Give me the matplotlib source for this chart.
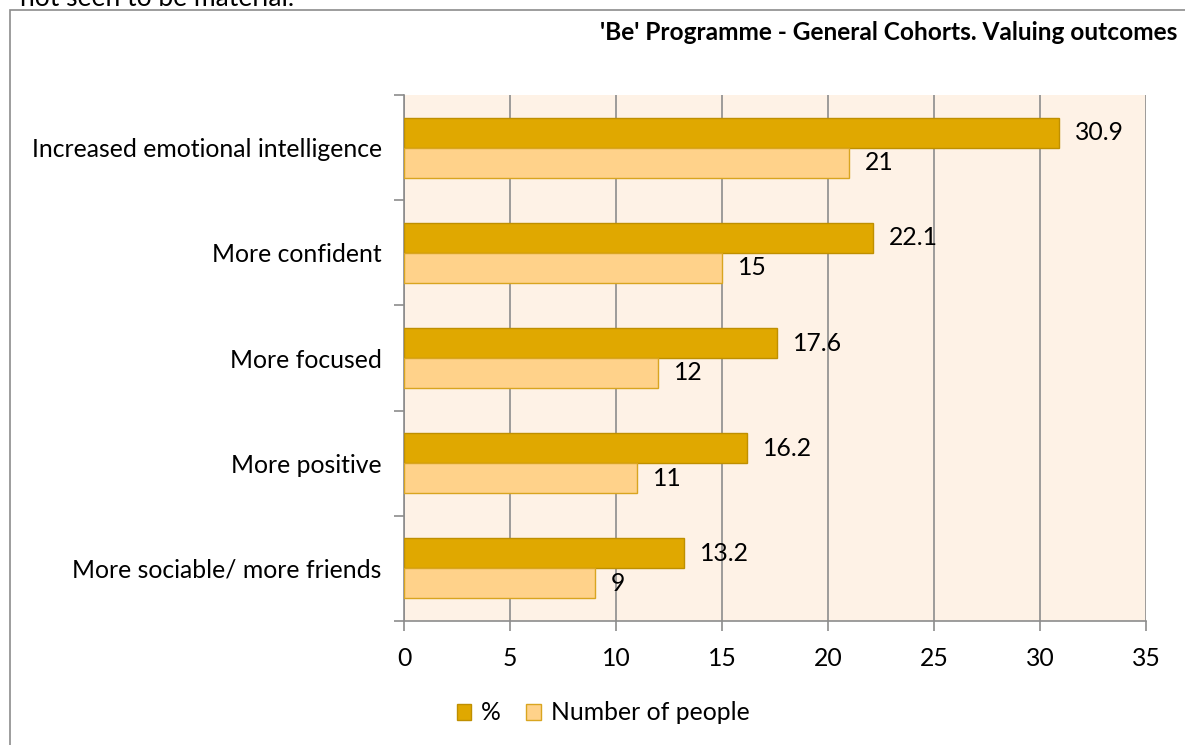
import matplotlib
matplotlib.use("Agg")
import matplotlib.pyplot as plt
from matplotlib.patches import Rectangle
import numpy as np

categories = ["Increased emotional intelligence", "More confident", "More focused",
              "More positive", "More sociable/ more friends"]
pct = [30.9, 22.1, 17.6, 16.2, 13.2]
people = [21, 15, 12, 11, 9]
series_names = ["%", "Number of people"]
title = "'Be' Programme - General Cohorts. Valuing outcomes"
xticks = [0, 5, 10, 15, 20, 25, 30, 35]

plt.rcParams['font.family'] = ['Lato', 'DejaVu Sans']

W, H = 1185, 745
fig = plt.figure(figsize=(W/100, H/100), dpi=100)

FS = 17.8

# outer frame
fig.patches.append(Rectangle((9.5/W, -0.1), 1.2, 1 - 9.5/H + 0.1, transform=fig.transFigure,
                             fill=False, edgecolor='#8c8c8c', linewidth=1.2))
fig.text(20/W, 1 + 14/H, "not seen to be material.", fontsize=19, va='top', ha='left', color='black')

ax = fig.add_axes([404/W, 1 - 621/H, (1146-404)/W, (621-95)/H])
ax.set_facecolor('#FEF2E6')

dark = '#E0A800'
dark_edge = '#BF8F00'
light = '#FFD28A'
light_edge = '#D9A520'

n = len(categories)
y = np.arange(n)[::-1].astype(float)
h = 0.285
ax.barh(y + h/2, pct, height=h, color=dark, edgecolor=dark_edge, linewidth=1.0, label=series_names[0], zorder=3)
ax.barh(y - h/2, people, height=h, color=light, edgecolor=light_edge, linewidth=1.0, label=series_names[1], zorder=3)

for yi, v in zip(y, pct):
    ax.text(v + 0.75, yi + h/2, f"{v}", va='center', ha='left', fontsize=FS, zorder=4)
for yi, v in zip(y, people):
    ax.text(v + 0.75, yi - h/2, f"{v}", va='center', ha='left', fontsize=FS, zorder=4)

ax.set_xlim(0, 35)
ax.set_ylim(-0.5, n - 0.5)
ax.set_xticks(xticks)
ax.set_xticklabels([str(t) for t in xticks], fontsize=FS)
ax.set_yticks(y)
ax.set_yticklabels(categories, fontsize=FS)
ax.set_yticks(np.arange(n + 1) - 0.5, minor=True)
ax.tick_params(axis='y', which='major', length=0, pad=16)
ax.tick_params(axis='y', which='minor', length=7, color='#8c8c8c', width=1.2)
ax.tick_params(axis='x', length=7, color='#8c8c8c', width=1.2, pad=12)
ax.grid(axis='x', color='#8c8c8c', linewidth=1.2, zorder=1)
ax.spines['top'].set_visible(False)
ax.spines['right'].set_visible(False)
ax.spines['left'].set_color('#8c8c8c')
ax.spines['bottom'].set_color('#8c8c8c')
ax.spines['left'].set_linewidth(1.2)
ax.spines['bottom'].set_linewidth(1.2)

fig.text(1177/W, 1 - 33/H, title, fontsize=17.6, fontweight='bold', ha='right', va='center')

handles, labels = ax.get_legend_handles_labels()
fig.legend(handles, labels, loc='center', bbox_to_anchor=(603/W, 1 - 713/H), ncol=2,
           frameon=False, fontsize=FS, handlelength=0.6, handleheight=0.6,
           handletextpad=0.4, columnspacing=1.0)

fig.savefig("out.png", dpi=100)
